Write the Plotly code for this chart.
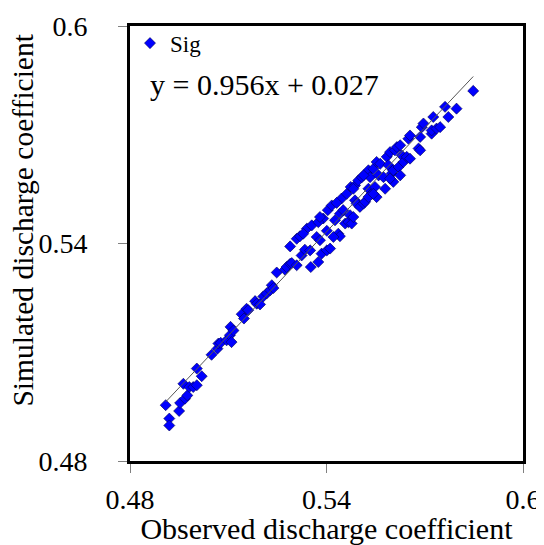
import plotly.graph_objects as go

FONT_FAMILY = "Liberation Serif, Times New Roman, serif"

observed = [
    0.4909, 0.4920, 0.4920, 0.4950, 0.4953, 0.4963, 0.4968, 0.4975, 0.4981, 0.4993,
    0.5004, 0.5004, 0.5019, 0.5049, 0.5067, 0.5070, 0.5077, 0.5095, 0.5105, 0.5107,
    0.5110, 0.5116, 0.5141, 0.5148, 0.5156, 0.5161, 0.5182, 0.5187, 0.5197, 0.5207,
    0.5217, 0.5228, 0.5233, 0.5238, 0.5248, 0.5273, 0.5278, 0.5289, 0.5294, 0.5309,
    0.5289, 0.5309, 0.5319, 0.5324, 0.5334, 0.5340, 0.5350, 0.5352, 0.5355, 0.5370,
    0.5375, 0.5380, 0.5385, 0.5390, 0.5401, 0.5401, 0.5411, 0.5404, 0.5416, 0.5426,
    0.5436, 0.5441, 0.5441, 0.5446, 0.5451, 0.5457, 0.5462, 0.5467, 0.5472, 0.5474,
    0.5477, 0.5487, 0.5487, 0.5492, 0.5497, 0.5502, 0.5508, 0.5513, 0.5518, 0.5523,
    0.5528, 0.5528, 0.5533, 0.5538, 0.5543, 0.5548, 0.5553, 0.5553, 0.5559, 0.5564,
    0.5574, 0.5579, 0.5584, 0.5589, 0.5594, 0.5599, 0.5604, 0.5604, 0.5609, 0.5615,
    0.5620, 0.5625, 0.5625, 0.5630, 0.5635, 0.5645, 0.5650, 0.5655, 0.5655, 0.5681,
    0.5686, 0.5686, 0.5691, 0.5696, 0.5721, 0.5721, 0.5726, 0.5736, 0.5747, 0.5762,
    0.5772, 0.5797, 0.5848, 0.5329, 0.5375, 0.5380, 0.5431, 0.5482, 0.5513, 0.5421,
    0.5482, 0.5528, 0.5543, 0.5594,
]
simulated = [
    0.4954, 0.4917, 0.4898, 0.4938, 0.4960, 0.5013, 0.4972, 0.4981, 0.5004, 0.5004,
    0.5009, 0.5055, 0.5034, 0.5093, 0.5110, 0.5124, 0.5126, 0.5133, 0.5147, 0.5170,
    0.5128, 0.5160, 0.5205, 0.5193, 0.5220, 0.5216, 0.5241, 0.5234, 0.5232, 0.5254,
    0.5262, 0.5271, 0.5285, 0.5277, 0.5320, 0.5328, 0.5335, 0.5344, 0.5346, 0.5340,
    0.5392, 0.5413, 0.5420, 0.5367, 0.5383, 0.5441, 0.5381, 0.5335, 0.5450, 0.5418,
    0.5349, 0.5409, 0.5372, 0.5469, 0.5435, 0.5381, 0.5386, 0.5492, 0.5505, 0.5464,
    0.5427, 0.5420, 0.5482, 0.5524, 0.5492, 0.5455, 0.5537, 0.5459, 0.5478, 0.5556,
    0.5455, 0.5560, 0.5519, 0.5510, 0.5574, 0.5501, 0.5583, 0.5510, 0.5515, 0.5593,
    0.5602, 0.5551, 0.5583, 0.5537, 0.5606, 0.5556, 0.5528, 0.5625, 0.5588, 0.5620,
    0.5583, 0.5551, 0.5639, 0.5616, 0.5652, 0.5593, 0.5570, 0.5602, 0.5657, 0.5666,
    0.5611, 0.5588, 0.5671, 0.5643, 0.5625, 0.5639, 0.5689, 0.5698, 0.5634, 0.5662,
    0.5694, 0.5657, 0.5721, 0.5731, 0.5703, 0.5712, 0.5749, 0.5717, 0.5721, 0.5777,
    0.5749, 0.5772, 0.5821, 0.5427, 0.5459, 0.5473, 0.5512, 0.5551, 0.5588, 0.5418,
    0.5473, 0.5528, 0.5537, 0.5579,
]

slope = 0.956
intercept = 0.027

tick_values = [0.48, 0.54, 0.6]
tick_labels = ["0.48", "0.54", "0.6"]

x_fit = [min(observed), max(observed)]
y_fit = [slope * v + intercept for v in x_fit]


def axis_style(label_standoff):
    return dict(
        range=[0.48, 0.6],
        tickvals=tick_values,
        ticktext=tick_labels,
        ticks="outside",
        ticklen=9,
        tickwidth=1,
        tickcolor="#808080",
        ticklabelstandoff=label_standoff,
        showline=True,
        mirror=True,
        linecolor="black",
        linewidth=3,
        showgrid=False,
        zeroline=False,
        automargin=False,
        tickfont=dict(family=FONT_FAMILY, size=28, color="black"),
    )


fig = go.Figure()
fig.add_trace(
    go.Scatter(
        x=observed,
        y=simulated,
        mode="markers",
        name="Sig",
        marker=dict(
            symbol="diamond",
            size=8.5,
            color="#0000ff",
            line=dict(color="#000050", width=0.6),
        ),
    )
)
fig.add_trace(
    go.Scatter(
        x=x_fit,
        y=y_fit,
        mode="lines",
        showlegend=False,
        line=dict(color="#555555", width=1),
        hoverinfo="skip",
    )
)

fig.add_annotation(
    text=f"y = {slope}x + {intercept}",
    x=0.045,
    y=0.866,
    xref="paper",
    yref="paper",
    xanchor="left",
    yanchor="middle",
    showarrow=False,
    font=dict(family=FONT_FAMILY, size=30, color="black"),
)
fig.add_annotation(
    text="Simulated discharge coefficient",
    textangle=-90,
    x=-0.272,
    y=0.553,
    xref="paper",
    yref="paper",
    xanchor="center",
    yanchor="middle",
    showarrow=False,
    font=dict(family=FONT_FAMILY, size=29.5, color="black"),
)

# the page body keeps its default 8px margin, so the figure is 8px smaller
xaxis = axis_style(2)
xaxis["title"] = dict(
    text="Observed discharge coefficient",
    font=dict(family=FONT_FAMILY, size=30, color="black"),
    standoff=4,
)

fig.update_layout(
    width=536,
    height=537,
    margin=dict(l=122, r=21, t=18, b=84),
    paper_bgcolor="white",
    plot_bgcolor="white",
    font=dict(family=FONT_FAMILY, color="black"),
    xaxis=xaxis,
    yaxis=axis_style(25),
    legend=dict(
        x=0.0,
        y=1.01,
        xanchor="left",
        yanchor="top",
        bgcolor="rgba(0,0,0,0)",
        font=dict(family=FONT_FAMILY, size=23, color="black"),
        itemwidth=30,
    ),
    showlegend=True,
)

fig.write_html("out.html")
